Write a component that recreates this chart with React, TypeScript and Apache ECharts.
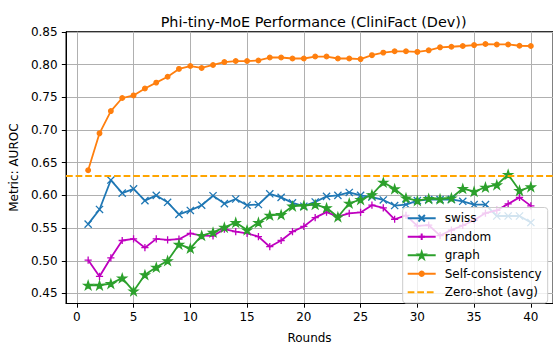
import React, { useEffect, useRef } from "react";
import * as echarts from "echarts";

const rounds = Array.from({ length: 40 }, (_, i) => i + 1);

const swiss = [
  0.556, 0.5785, 0.6235, 0.6035, 0.61, 0.592, 0.6, 0.5895, 0.571, 0.577,
  0.585, 0.5995, 0.5875, 0.5945, 0.585, 0.586, 0.6025, 0.597, 0.5885, 0.5835,
  0.59, 0.5985, 0.6, 0.6045, 0.6, 0.5975, 0.593, 0.5845, 0.586, 0.592,
  0.5935, 0.5935, 0.594, 0.591, 0.586, 0.586, 0.5685, 0.5685, 0.5685, 0.5585,
];
const random = [
  0.501, 0.476, 0.5045, 0.531, 0.5335, 0.52, 0.5335, 0.532, 0.533, 0.542,
  0.5385, 0.538, 0.5485, 0.5445, 0.542, 0.537, 0.5215, 0.531, 0.5445, 0.5525,
  0.566, 0.5745, 0.5675, 0.5725, 0.574, 0.585, 0.581, 0.5635, 0.5695, 0.5535,
  0.5545, 0.5385, 0.547, 0.554, 0.562, 0.573, 0.577, 0.587, 0.597, 0.584,
];
const graph = [
  0.4625, 0.4625, 0.465, 0.4735, 0.4535, 0.4785, 0.49, 0.5, 0.525, 0.519,
  0.5385, 0.5435, 0.551, 0.5585, 0.547, 0.5585, 0.5695, 0.5705, 0.5835, 0.5845,
  0.586, 0.581, 0.567, 0.588, 0.5935, 0.601, 0.62, 0.61, 0.596, 0.592,
  0.595, 0.5945, 0.596, 0.6105, 0.606, 0.6125, 0.616, 0.632, 0.6075, 0.613,
];
const selfConsistency = [
  0.6385, 0.695, 0.729, 0.749, 0.753, 0.7636, 0.7726, 0.7816, 0.7936, 0.798,
  0.795, 0.7996, 0.804, 0.8056, 0.8056, 0.8065, 0.811, 0.811, 0.8095, 0.8095,
  0.8125, 0.8125, 0.8095, 0.8095, 0.8086, 0.8146, 0.8185, 0.8205, 0.8205, 0.8196,
  0.822, 0.8266, 0.8275, 0.8286, 0.83, 0.8316, 0.831, 0.831, 0.829, 0.8286,
];
const zeroShotAvg = 0.632;

const xTicks = [0, 5, 10, 15, 20, 25, 30, 35, 40];
const yTicks = [0.45, 0.5, 0.55, 0.6, 0.65, 0.7, 0.75, 0.8, 0.85];

const FONT = "DejaVu Sans";

const X_PATH = "path://M0,0L10,10M10,0L0,10";
const PLUS_PATH = "path://M5,0L5,10M0,5L10,5";
const STAR_PATH =
  "path://M50,0L61.17,34.63L97.55,34.55L68.07,55.87L79.39,90.45L50,69L20.61,90.45L31.93,55.87L2.45,34.55L38.83,34.63Z";

export default function App() {
  const ref = useRef<HTMLDivElement>(null);

  useEffect(() => {
    if (!ref.current) return;
    const chart = echarts.init(ref.current, null, { renderer: "svg" });

    const all = [...swiss, ...random, ...graph, ...selfConsistency, zeroShotAvg];
    const lo = Math.min(...all);
    const hi = Math.max(...all);
    const ym = (hi - lo) * 0.05;
    const xlo = rounds[0];
    const xhi = rounds[rounds.length - 1];
    const xm = (xhi - xlo) * 0.05;

    const pair = (arr: number[]) => rounds.map((r, i) => [r, arr[i]]);

    const lineSeries = (
      name: string,
      arr: number[],
      color: string,
      symbol: string,
      size: number,
      fill: boolean
    ) => ({
      name,
      type: "line",
      data: pair(arr),
      symbol,
      symbolSize: size,
      symbolKeepAspect: true,
      showSymbol: true,
      lineStyle: { color, width: 1.8 },
      itemStyle: {
        color: fill ? color : "none",
        borderColor: color,
        borderWidth: 1.3,
      },
      emphasis: { disabled: true },
      z: 3,
    });

    chart.setOption({
      animation: false,
      textStyle: { fontFamily: FONT },
      title: {
        text: "Phi-tiny-MoE Performance (CliniFact (Dev))",
        left: 308.6,
        textAlign: "center",
        top: 10,
        textStyle: {
          fontFamily: FONT,
          fontSize: 14.4,
          fontWeight: "normal",
          color: "#000",
        },
      },
      grid: {
        left: 63.6,
        top: 31.7,
        width: 490,
        height: 277.3,
        show: true,
        borderColor: "#000",
        borderWidth: 1,
        containLabel: false,
      },
      xAxis: {
        type: "value",
        min: xlo - xm,
        max: xhi + xm,
        name: "Rounds",
        nameLocation: "middle",
        nameGap: 28.5,
        nameTextStyle: { fontFamily: FONT, fontSize: 12, color: "#000" },
        axisLine: { show: true, onZero: false, lineStyle: { color: "#000", width: 1 } },
        axisTick: {
          show: true,
          length: 4.2,
          lineStyle: { color: "#000", width: 1 },
          customValues: xTicks,
        },
        axisLabel: {
          customValues: xTicks,
          margin: 7.5,
          fontFamily: FONT,
          fontSize: 12,
          color: "#000",
        },
        splitLine: { show: true, lineStyle: { color: "#b0b0b0", width: 1 } },
      },
      yAxis: {
        type: "value",
        min: lo - ym,
        max: hi + ym,
        name: "Metric: AUROC",
        nameLocation: "middle",
        nameGap: 35,
        nameRotate: 90,
        nameTextStyle: { fontFamily: FONT, fontSize: 12, color: "#000" },
        axisLine: { show: true, onZero: false, lineStyle: { color: "#000", width: 1 } },
        axisTick: {
          show: true,
          length: 4.2,
          lineStyle: { color: "#000", width: 1 },
          customValues: yTicks,
        },
        axisLabel: {
          customValues: yTicks,
          margin: 8.4,
          fontFamily: FONT,
          fontSize: 12,
          color: "#000",
          formatter: (v: number) => v.toFixed(2),
        },
        splitLine: { show: true, lineStyle: { color: "#b0b0b0", width: 1 } },
      },
      legend: {
        orient: "vertical",
        right: 5.3,
        bottom: 46,
        z: 10,
        padding: [4.5, 6, 4.5, 4],
        itemGap: 6,
        itemWidth: 28,
        itemHeight: 8,
        backgroundColor: "rgba(255,255,255,0.8)",
        borderColor: "#cccccc",
        borderWidth: 1,
        borderRadius: 3,
        textStyle: {
          fontFamily: FONT,
          fontSize: 12,
          color: "#000",
          lineHeight: 12.5,
          padding: [0, 0, 0, 4],
        },
        data: [
          "swiss",
          "random",
          "graph",
          { name: "Self-consistency", itemStyle: { borderWidth: 0 } },
          { name: "Zero-shot (avg)", itemStyle: { opacity: 0 } },
        ],
      },
      series: [
        lineSeries("swiss", swiss, "#1f77b4", X_PATH, 7.2, false),
        lineSeries("random", random, "#bf00bf", PLUS_PATH, 7.2, false),
        lineSeries("graph", graph, "#2ca02c", STAR_PATH, 8.5, true),
        lineSeries("Self-consistency", selfConsistency, "#ff7f0e", "circle", 4.6, true),
        {
          name: "Zero-shot (avg)",
          type: "line",
          data: [],
          symbol: "none",
          lineStyle: { color: "#ffa500", width: 1.8, type: [6.7, 2.9] },
          itemStyle: { color: "#ffa500" },
          z: 3,
          markLine: {
            silent: true,
            symbol: "none",
            label: { show: false },
            lineStyle: { color: "#ffa500", width: 1.8, type: [6.7, 2.9] },
            emphasis: { disabled: true },
            data: [{ yAxis: zeroShotAvg }],
          },
        },
      ],
    });

    return () => chart.dispose();
  }, []);

  return (
    <div
      ref={ref}
      style={{ position: "absolute", left: 0, top: 0, width: 553, height: 349 }}
    />
  );
}
